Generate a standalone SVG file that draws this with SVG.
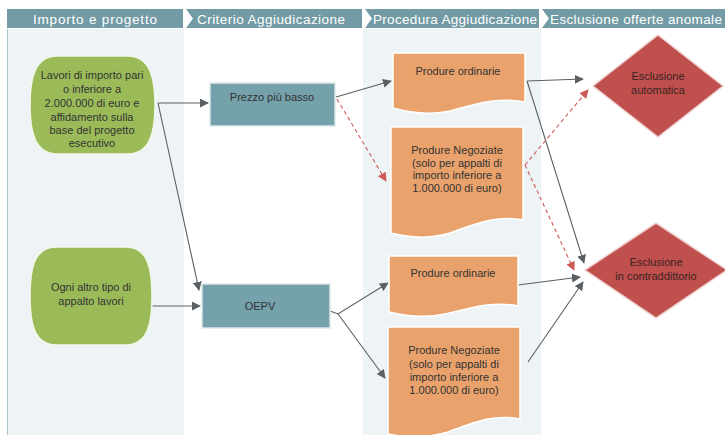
<svg xmlns="http://www.w3.org/2000/svg" width="725" height="435" viewBox="0 0 725 435">
<defs>
<style>
.hdr{fill:#729ba5}
.htxt{font-family:"Liberation Sans",Arial,sans-serif;font-size:13.5px;fill:#ffffff}
.col{fill:#eef4f5}
.green{fill:#9bbb59;stroke:#f2f7ec;stroke-width:1.5}
.teal{fill:#75a1ab;stroke:#dfe7ea;stroke-width:1.5}
.orange{fill:#e9a26b;stroke:#ffffff;stroke-width:1.5}
.red{fill:#c0504d;stroke:#f0d0d0;stroke-width:1.5}
.t{font-family:"Liberation Sans",Arial,sans-serif;font-size:11px;fill:#333333;text-anchor:middle}
.tr{font-family:"Liberation Sans",Arial,sans-serif;font-size:11px;fill:#3a2222;text-anchor:middle}
.ln{stroke:#5a5f63;stroke-width:1.1;fill:none;marker-end:url(#ag)}
.dl{stroke:#cc5a57;stroke-width:1.1;fill:none;stroke-dasharray:4 3;marker-end:url(#ar)}
</style>
<marker id="ag" viewBox="0 0 10 10" refX="9" refY="5" markerWidth="9" markerHeight="9" markerUnits="userSpaceOnUse" orient="auto"><path d="M0,0 L10,5 L0,10 Z" fill="#5a5f63"/></marker>
<marker id="ar" viewBox="0 0 10 10" refX="9" refY="5" markerWidth="9" markerHeight="9" markerUnits="userSpaceOnUse" orient="auto"><path d="M0,0 L10,5 L0,10 Z" fill="#cc5a57"/></marker>
</defs>
<rect width="725" height="435" fill="#ffffff"/>
<g id="columns">
<rect class="col" x="7" y="29" width="177" height="406"/>
<line x1="7.5" y1="29" x2="7.5" y2="435" stroke="#a8c3cb" stroke-width="1"/>
<rect class="col" x="363" y="29" width="178" height="406"/>
</g>
<g id="headers">
<polygon class="hdr" points="7,9 183,9 183,28 7,28"/>
<polygon class="hdr" points="186,9 362,9 362,28 186,28 193,18.5"/>
<polygon class="hdr" points="365,9 539,9 539,28 365,28 372,18.5"/>
<polygon class="hdr" points="542,9 725,9 725,28 542,28 549,18.5"/>
<text class="htxt" x="33" y="23.5" textLength="124" lengthAdjust="spacing">Importo e progetto</text>
<text class="htxt" x="197" y="23.5" textLength="148" lengthAdjust="spacing">Criterio Aggiudicazione</text>
<text class="htxt" x="373" y="23.5" textLength="164" lengthAdjust="spacing">Procedura Aggiudicazione</text>
<text class="htxt" x="550" y="23.5" textLength="172" lengthAdjust="spacing">Esclusione offerte anomale</text>
</g>
<g id="connectors">
<path class="ln" d="M158,103 L208,103"/>
<path class="ln" d="M158,103 L199,290"/>
<path class="ln" d="M151,306 L200,306"/>
<path class="ln" d="M336,97 L391,81"/>
<path class="dl" d="M337,99 L386,181"/>
<path class="ln" d="M330,311 L338,314 L388,283"/>
<path class="ln" d="M338,314 L385,378"/>
<path class="ln" d="M527,81 L583,79"/>
<path class="ln" d="M527,81 L584,263"/>
<path class="dl" d="M525,165 L588,90"/>
<path class="dl" d="M525,165 L574,270"/>
<path class="ln" d="M518,285 L580,277"/>
<path class="ln" d="M528,362 L583,282"/>
</g>
<g id="n-lavori">
<path class="green" d="M57,56 H128 C151,56 155,80 155,105 C155,130 151,154 128,154 H57 C34,154 30,130 30,105 C30,80 34,56 57,56 Z"/>
<text class="t" x="92" y="79">Lavori di importo pari</text>
<text class="t" x="92" y="93">o inferiore a</text>
<text class="t" x="92" y="107">2.000.000 di euro e</text>
<text class="t" x="92" y="121">affidamento  sulla</text>
<text class="t" x="92" y="134">base del progetto</text>
<text class="t" x="92" y="147">esecutivo</text>
</g>
<g id="n-altro">
<path class="green" d="M56,247 H126 C149,247 152,271 152,296 C152,321 149,345 126,345 H56 C33,345 30,321 30,296 C30,271 33,247 56,247 Z"/>
<text class="t" x="91" y="291">Ogni altro tipo di</text>
<text class="t" x="91" y="305">appalto lavori</text>
</g>
<g id="n-prezzo">
<rect class="teal" x="210" y="83" width="125" height="43"/>
<text class="t" x="272" y="101">Prezzo più basso</text>
</g>
<g id="n-oepv">
<rect class="teal" x="202" y="284" width="128" height="44"/>
<text class="t" x="260" y="310">OEPV</text>
</g>
<g id="n-ord1">
<path class="orange" d="M393,53 H525 V102 C495,96 470,106 450,111 C430,115 410,113 393,108 Z"/>
<text class="t" x="458" y="75">Produre ordinarie</text>
</g>
<g id="n-neg1">
<path class="orange" d="M391,127 H523 V220 C495,214 470,226 450,233 C430,239 410,238 391,233 Z"/>
<text class="t" x="457" y="154">Produre Negoziate</text>
<text class="t" x="457" y="167">(solo per appalti di</text>
<text class="t" x="457" y="179">importo inferiore a</text>
<text class="t" x="457" y="192">1.000.000 di euro)</text>
</g>
<g id="n-ord2">
<path class="orange" d="M389,256 H518 V306 C490,300 465,310 445,314 C425,318 405,316 389,312 Z"/>
<text class="t" x="453" y="277">Produre ordinarie</text>
</g>
<g id="n-neg2">
<path class="orange" d="M388,327 H520 V419 C492,413 468,425 448,432 C428,438 408,438 388,434 Z"/>
<text class="t" x="454" y="354">Produre Negoziate</text>
<text class="t" x="454" y="368">(solo per appalti di</text>
<text class="t" x="454" y="381">importo inferiore a</text>
<text class="t" x="454" y="394">1.000.000 di euro)</text>
</g>
<g id="n-automatica">
<polygon class="red" points="658,35 723,86 658,137 593,86"/>
<text class="tr" x="658" y="80">Esclusione</text>
<text class="tr" x="658" y="94">automatica</text>
</g>
<g id="n-contraddittorio">
<polygon class="red" points="656,223 727,270 656,318 585,270"/>
<text class="tr" x="656" y="266">Esclusione</text>
<text class="tr" x="656" y="280">in contraddittorio</text>
</g>
</svg>
